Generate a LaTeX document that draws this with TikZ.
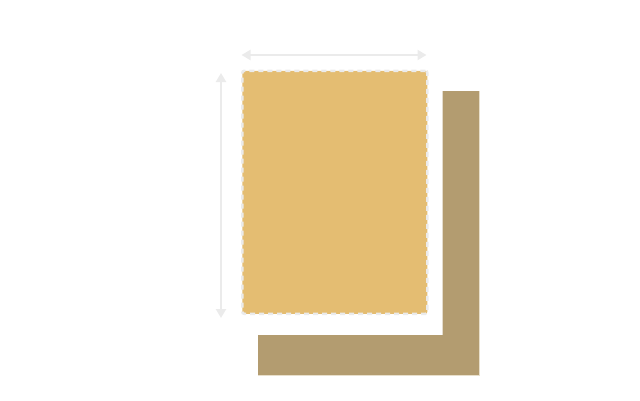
\documentclass[tikz,border=0pt]{standalone}
\usetikzlibrary{arrows.meta}
\definecolor{gold}{HTML}{E4BD72}
\definecolor{bronze}{HTML}{B39C70}
\definecolor{bronzeedge}{HTML}{E8DFCB}
\definecolor{dimline}{HTML}{EBEBEB}
\tikzset{
  dimarrow/.style={draw=dimline, line width=2.2pt, {Triangle[length=9pt,width=10pt]}-{Triangle[length=9pt,width=10pt]}},
  goldbox/.style={fill=gold, draw=dimline, line width=2.6pt, dash pattern=on 5pt off 4pt, rounded corners=2pt},
  lshape/.style={fill=bronze},
  lshapeedge/.style={draw=bronzeedge, line width=0.8pt}
}
\begin{document}
\begin{tikzpicture}[x=1pt,y=-1pt]
\useasboundingbox (0,0) rectangle (640,400);
% L-shaped frame
\path[lshape] (442.5,91) -- (479,91) -- (479,375) -- (258,375) -- (258,335) -- (442.5,335) -- cycle;
\draw[lshapeedge] (479.4,91) -- (479.4,375.4) -- (258,375.4);
% golden page
\node[goldbox, minimum width=185pt, minimum height=243pt, inner sep=0pt, anchor=north west] (page) at (241,69.5) {};
% dimension arrows
\coordinate (wl) at (241.5,55);
\coordinate (wr) at (426.5,55);
\coordinate (ht) at (221,73);
\coordinate (hb) at (221,318);
\draw[dimarrow] (wl) -- (wr);
\draw[dimarrow] (ht) -- (hb);
\end{tikzpicture}
\end{document}
